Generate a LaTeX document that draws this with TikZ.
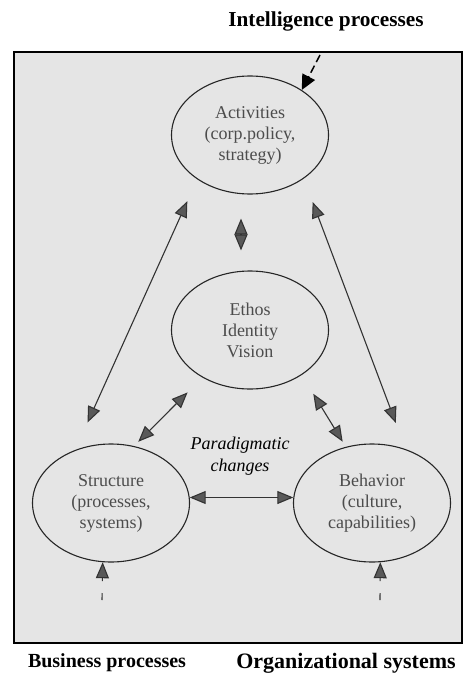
\documentclass[tikz,border=0pt]{standalone}
\usepackage{fontspec}
\setmainfont{Liberation Serif}
\usetikzlibrary{arrows.meta,shapes.geometric}
\begin{document}
\begin{tikzpicture}[x=1pt,y=-1pt,
        blob/.style={ellipse,draw=black!85,line width=1.1pt,minimum width=157pt,minimum height=118pt,inner sep=0pt,align=center,text=black!70,font=\fontsize{18}{21}\selectfont},
        both/.style={draw=black!80,line width=1.1pt,{Triangle[length=16pt,width=13pt,fill=black!65]}-{Triangle[length=16pt,width=13pt,fill=black!65]}},
        feed/.style={draw=black!80,line width=1.1pt,dash pattern=on 7pt off 12pt,-{Triangle[length=16pt,width=13pt,fill=black!65]}},
        title/.style={font=\bfseries\fontsize{20}{24}\selectfont}]
    \useasboundingbox (0,0) rectangle (463,677);
    \draw[line width=1.5pt,fill=black!10] (14,52) rectangle (462,643);

    \node[blob] (act) at (250,135) {Activities\\(corp.policy,\\strategy)};
    \node[blob] (eth) at (250,330) {Ethos\\Identity\\Vision};
    \node[blob] (str) at (111,503) {Structure\\(processes,\\systems)};
    \node[blob] (beh) at (372,503) {Behavior\\(culture,\\capabilities)};
    \node[align=center,font=\itshape\fontsize{18}{22}\selectfont] (par) at (240,456) {Paradigmatic\\changes};

    \node[title,font=\bfseries\fontsize{21.3}{24}\selectfont] (intel) at (326,21) {Intelligence processes};
    \node[title] (busi) at (107,663) {Business processes};
    \node[title,font=\bfseries\fontsize{22}{24}\selectfont] (orgs) at (346,663) {Organizational systems};

    \draw[both,shorten <=24pt,shorten >=30pt] (act.220) -- (str.124);
    \draw[both,shorten <=25pt,shorten >=28pt] (act.321) -- (beh.58);
    \draw[both,shorten <=21pt,shorten >=6pt] (eth.225) -- (str.68);
    \draw[both,shorten <=22pt,shorten >=6pt] (eth.319) -- (beh.115);
    \draw[both] (str.4) -- (beh.176);
    \draw[both,shorten <=24pt,shorten >=20pt] ([xshift=-9pt]act.south) -- ([xshift=-9pt]eth.north);

    % dashed inputs
    \coordinate (ip) at (320,55);
    \coordinate (bp) at (102,600);
    \coordinate (op) at (380,600);
    \draw[black,line width=1.5pt,dash pattern=on 8pt off 4pt,-{Triangle[length=15pt,width=14pt]}] (ip) -- (act.41);
    \draw[feed] (bp) -- (str.262);
    \draw[feed] (op) -- (beh.278);
\end{tikzpicture}
\end{document}
